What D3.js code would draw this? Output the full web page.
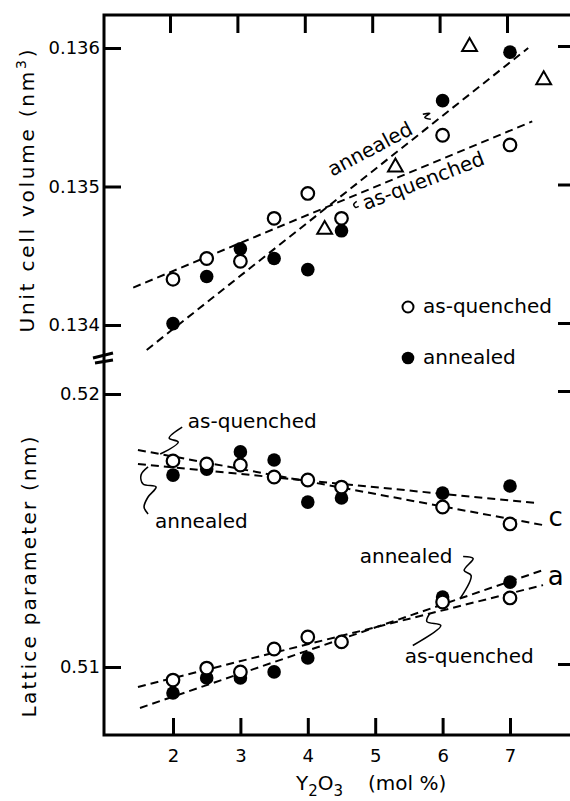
<!DOCTYPE html>
<html>
<head>
<meta charset="utf-8">
<script src="https://cdn.jsdelivr.net/npm/d3@7"></script>
<style>
	body { margin: 0; background: #fff; }
	svg text { font-family: "DejaVu Sans", sans-serif; fill: #000; }
	.axis path { display: none; }
	.axis line { stroke: #000; stroke-width: 3; }
	.frame { fill: none; stroke: #000; stroke-width: 3; }
	.fit { fill: none; stroke: #000; stroke-width: 2; stroke-dasharray: 8,5; }
	.lead { fill: none; stroke: #000; stroke-width: 1.6; }
</style>
</head>
<body>
<svg class="chart" width="570" height="801"></svg>
<script>
// Y2O3 content (mol %)
var xMol = [2, 2.5, 3, 3.5, 4, 4.5, 6, 7];

// unit cell volume (nm3)
var volQuenched = [0.13433, 0.13448, 0.13446, 0.13477, 0.13495, 0.13477, 0.13537, 0.13530];
var volAnnealed = [0.13401, 0.13435, 0.13455, 0.13448, 0.13440, 0.13468, 0.13562, 0.13597];
var triX = [4.25, 5.3, 6.4, 7.5];
var triVol = [0.13469, 0.13514, 0.13601, 0.13577];

// lattice parameter c (nm)
var cQuenched = [0.51755, 0.51744, 0.51740, 0.51696, 0.51685, 0.51659, 0.51586, 0.51524];
var cAnnealed = [0.51703, 0.51725, 0.51788, 0.51758, 0.51604, 0.51619, 0.51637, 0.51663];

// lattice parameter a (nm)
var aQuenched = [0.50952, 0.50996, 0.50982, 0.51066, 0.51110, 0.51092, 0.51238, 0.51253];
var aAnnealedX = [2, 2.5, 3, 3.5, 4, 6, 7];
var aAnnealed = [0.50905, 0.50960, 0.50960, 0.50982, 0.51033, 0.51256, 0.51311];

// fitted dashed lines: [x0, x1], [v0, v1]
var volQFitX = [1.41, 7.33], volQFit = [0.13427, 0.13547];
var volAFitX = [1.61, 7.27], volAFit = [0.13382, 0.13600];
var cQFitX = [1.48, 7.49], cQFit = [0.51795, 0.51520];
var cAFitX = [1.48, 7.37], cAFit = [0.51744, 0.51601];
var aQFitX = [1.48, 7.49], aQFit = [0.50927, 0.51300];
var aAFitX = [1.51, 7.49], aAFit = [0.50850, 0.51355];

// ticks
var xTicks = [2, 3, 4, 5, 6, 7];
var volTicks = [0.134, 0.135, 0.136];
var latTicks = [0.51, 0.52];

function drawChart() {
	var left = 104, right = 571, top = 15, bottom = 735, brk = 358;

	var x = d3.scaleLinear().domain([2, 7]).range([173, 510]);
	var yTop = d3.scaleLinear().domain([0.134, 0.136]).range([325, 48]);
	var yBot = d3.scaleLinear().domain([0.51, 0.52]).range([667, 394]);

	var svg = d3.select(".chart");

	function zip(xs, ys) {
		return xs.map(function(d, i) { return {x: d, v: ys[i]}; });
	}

	// Frame
	svg.append("path")
		.attr("class", "frame")
		.attr("d", "M" + right + "," + top + "H" + left + "V" + bottom + "H" + right);

	// Axis break marks
	svg.append("path")
		.attr("class", "frame")
		.attr("d", "M93," + (brk) + "L113," + (brk - 5) + "M95," + (brk + 5) + "L113," + (brk + 2));

	// Left axes
	svg.append("g")
		.attr("class", "axis")
		.attr("transform", "translate(" + left + ",0)")
		.call(d3.axisLeft(yTop).tickValues(volTicks).tickSize(-17).tickPadding(4).tickFormat(d3.format(".3f")))
		.attr("font-size", 18);

	svg.append("g")
		.attr("class", "axis")
		.attr("transform", "translate(" + left + ",0)")
		.call(d3.axisLeft(yBot).tickValues(latTicks).tickSize(-17).tickPadding(4).tickFormat(d3.format(".2f")))
		.attr("font-size", 18);

	// Right ticks
	svg.append("g")
		.attr("class", "axis")
		.attr("transform", "translate(" + right + ",-2)")
		.call(d3.axisRight(yTop).tickValues(volTicks).tickSize(-13).tickFormat(""));

	svg.append("g")
		.attr("class", "axis")
		.attr("transform", "translate(" + right + ",-3)")
		.call(d3.axisRight(yBot).tickValues(latTicks).tickSize(-13).tickFormat(""));

	// Bottom and top ticks
	svg.append("g")
		.attr("class", "axis")
		.attr("transform", "translate(0," + bottom + ")")
		.call(d3.axisBottom(x).tickValues(xTicks).tickSize(-17).tickPadding(14).tickFormat(d3.format("d")))
		.attr("font-size", 18);

	svg.append("g")
		.attr("class", "axis")
		.attr("transform", "translate(-3," + top + ")")
		.call(d3.axisTop(x).tickValues(xTicks).tickSize(-18).tickFormat(""));

	// Axis titles
	var t1 = svg.append("text")
		.attr("transform", "translate(34,191) rotate(-90)")
		.attr("text-anchor", "middle")
		.attr("font-size", 20)
		.attr("textLength", 283)
		.attr("lengthAdjust", "spacing");
	t1.append("tspan").text("Unit cell volume (nm");
	t1.append("tspan").attr("dy", -8).attr("font-size", 14).text("3");
	t1.append("tspan").attr("dy", 8).text(")");

	svg.append("text")
		.attr("transform", "translate(36,577) rotate(-90)")
		.attr("text-anchor", "middle")
		.attr("font-size", 20)
		.attr("textLength", 281)
		.attr("lengthAdjust", "spacing")
		.text("Lattice parameter (nm)");

	var xt = svg.append("text")
		.attr("x", 296)
		.attr("y", 790)
		.attr("font-size", 20);
	xt.append("tspan").text("Y");
	xt.append("tspan").attr("dy", 6).attr("font-size", 15).text("2");
	xt.append("tspan").attr("dy", -6).text("O");
	xt.append("tspan").attr("dy", 6).attr("font-size", 15).text("3");
	xt.append("tspan").attr("dy", -6).attr("x", 368).text("(mol %)");

	// Fitted dashed lines
	var lineTop = d3.line()
		.x(function(d) { return x(d.x); })
		.y(function(d) { return yTop(d.v); });
	var lineBot = d3.line()
		.x(function(d) { return x(d.x); })
		.y(function(d) { return yBot(d.v); });

	[zip(volQFitX, volQFit), zip(volAFitX, volAFit)].forEach(function(f) {
		svg.append("path").datum(f).attr("class", "fit").attr("d", lineTop);
	});
	[zip(cQFitX, cQFit), zip(cAFitX, cAFit), zip(aQFitX, aQFit), zip(aAFitX, aAFit)].forEach(function(f) {
		svg.append("path").datum(f).attr("class", "fit").attr("d", lineBot);
	});

	// Points: filled first, open circles on top
	function dots(data, y, filled) {
		svg.append("g").selectAll("circle")
			.data(data)
		  .enter().append("circle")
			.attr("cx", function(d) { return x(d.x); })
			.attr("cy", function(d) { return y(d.v); })
			.attr("r", filled ? 6.8 : 6.3)
			.attr("fill", filled ? "#000" : "#fff")
			.attr("stroke", "#000")
			.attr("stroke-width", filled ? 0 : 2.2);
	}
	dots(zip(xMol, volAnnealed), yTop, true);
	dots(zip(xMol, volQuenched), yTop, false);
	dots(zip(xMol, cAnnealed), yBot, true);
	dots(zip(xMol, cQuenched), yBot, false);
	dots(zip(aAnnealedX, aAnnealed), yBot, true);
	dots(zip(xMol, aQuenched), yBot, false);

	svg.append("g").selectAll("path")
		.data(zip(triX, triVol))
	  .enter().append("path")
		.attr("d", d3.symbol().type(d3.symbolTriangle).size(95))
		.attr("transform", function(d) { return "translate(" + x(d.x) + "," + yTop(d.v) + ")"; })
		.attr("fill", "#fff")
		.attr("stroke", "#000")
		.attr("stroke-width", 2);

	// Annotations (anchored in data units)
	var notes = [
		{text: "annealed", x: 4.97, v: 0.135227, y: yTop, rot: -28, anchor: "middle", size: 20},
		{text: "as-quenched", x: 5.75, v: 0.134996, y: yTop, rot: -21, anchor: "middle", size: 20},
		{text: "as-quenched", x: 2.22, v: 0.51875, y: yBot, rot: 0, anchor: "start", size: 20},
		{text: "annealed", x: 1.733, v: 0.51509, y: yBot, rot: 0, anchor: "start", size: 20},
		{text: "c", x: 7.57, v: 0.51516, y: yBot, rot: 0, anchor: "start", size: 26},
		{text: "a", x: 7.56, v: 0.51300, y: yBot, rot: 0, anchor: "start", size: 26},
		{text: "annealed", x: 4.77, v: 0.51381, y: yBot, rot: 0, anchor: "start", size: 20},
		{text: "as-quenched", x: 5.44, v: 0.51015, y: yBot, rot: 0, anchor: "start", size: 20}
	];
	svg.append("g").selectAll("text")
		.data(notes)
	  .enter().append("text")
		.attr("transform", function(d) {
			return "translate(" + x(d.x) + "," + d.y(d.v) + ") rotate(" + d.rot + ")";
		})
		.attr("text-anchor", function(d) { return d.anchor; })
		.attr("font-size", function(d) { return d.size; })
		.text(function(d) { return d.text; });

	// Leader squiggles: anchor point in data units, shape as pixel offsets
	var leaders = [
		{x: 1.81, v: 0.51780, y: yBot, pts: [[0, 0], [18, -12], [9, -16], [22, -27]]},
		{x: 1.63, v: 0.51740, y: yBot, pts: [[0, 2], [-7, 10], [-5, 19], [8, 22], [0, 32], [-4, 42], [0, 49]]},
		{x: 6.26, v: 0.51251, y: yBot, pts: [[3, -42], [13, -40], [4, -28], [11, -23], [0, 0]]},
		{x: 5.81, v: 0.51196, y: yBot, pts: [[0, 0], [-3, 8], [11, 12], [-17, 32]]},
		{x: 5.84, v: 0.135449, y: yTop, pts: [[-9, -10], [-2, -11], [-7, -7], [-1, -5]]},
		{x: 4.77, v: 0.13495, y: yTop, pts: [[-3, 8], [-6, 11], [-4, 14], [-1, 13]]}
	];
	var leaderLine = d3.line().curve(d3.curveCatmullRom);
	leaders.forEach(function(l) {
		var ox = x(l.x), oy = l.y(l.v);
		svg.append("path")
			.attr("class", "lead")
			.attr("d", leaderLine(l.pts.map(function(p) { return [ox + p[0], oy + p[1]]; })));
	});

	// Legend
	var legend = svg.append("g").attr("transform", "translate(408,307)");
	legend.append("circle").attr("r", 5.5).attr("fill", "#fff").attr("stroke", "#000").attr("stroke-width", 2);
	legend.append("text").attr("x", 15).attr("y", 6).attr("font-size", 20).text("as-quenched");
	legend.append("circle").attr("cy", 51).attr("r", 6.3).attr("fill", "#000");
	legend.append("text").attr("x", 15).attr("y", 57).attr("font-size", 20).text("annealed");
}

drawChart();
</script>
</body>
</html>
